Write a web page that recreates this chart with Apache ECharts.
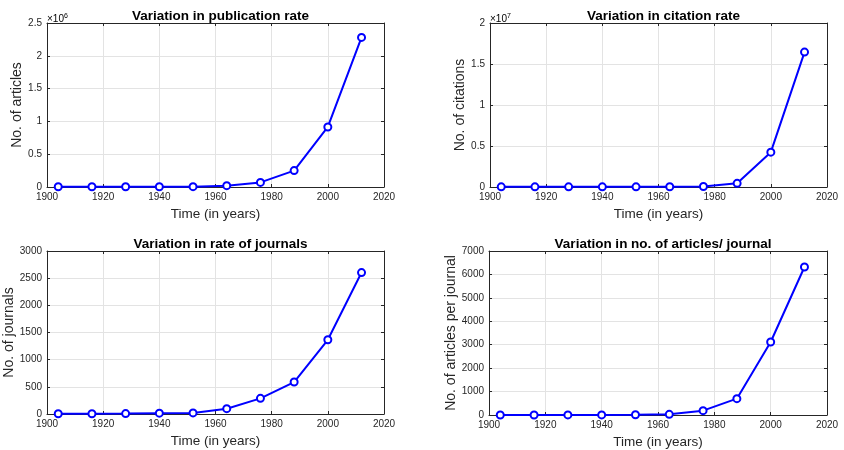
<!DOCTYPE html>
<html><head><meta charset="utf-8">
<script src="https://cdn.jsdelivr.net/npm/echarts@6/dist/echarts.min.js"></script>
<style>html,body{margin:0;padding:0;background:#fff}#c{width:844px;height:450px}</style>
</head><body><div id="c"></div>
<script>
const years = [1904, 1916, 1928, 1940, 1952, 1964, 1976, 1988, 2000, 2012];
const articles = [3000, 3000, 3500, 4000, 5000, 20000, 70000, 250000, 915000, 2280000];
const citations = [20000, 20000, 20000, 20000, 20000, 30000, 60000, 450000, 4250000, 16450000];
const journals = [5, 5, 8, 15, 20, 98, 288, 588, 1366, 2603];
const perJournal = [2, 2, 3, 4, 10, 28, 185, 697, 3115, 6316];
const titles = ['Variation in publication rate', 'Variation in citation rate', 'Variation in rate of journals', 'Variation in no. of articles/ journal'];
const yNames = ['No. of articles', 'No. of citations', 'No. of journals', 'No. of articles per journal'];
const xName = 'Time (in years)';
const yMax = [2500000, 20000000, 3000, 7000];
const yStep = [500000, 5000000, 500, 1000];
const yScale = [1e6, 1e7, 1, 1];

const FONT = '"Liberation Sans", Arial, sans-serif';
const grids = [
  {left: 47, right: 460, top: 23, bottom: 263},
  {left: 490, right: 17, top: 23, bottom: 263},
  {left: 47, right: 460, top: 251, bottom: 36},
  {left: 489, right: 17, top: 251, bottom: 35}
];
const yGaps = [22, 21, 28, 29];
const series = [articles, citations, journals, perJournal];

const xAxes = [], yAxes = [], ser = [], titleArr = [], graphics = [];
grids.forEach((g, i) => {
  const common = {gridIndex: i, type: 'value', min: 1900, max: 2020, interval: 20};
  xAxes.push(Object.assign({}, common, {
    position: 'bottom', name: xName, nameLocation: 'middle', nameGap: 20,
    nameTextStyle: {fontFamily: FONT, fontSize: 13.5, color: '#262626'},
    axisLine: {show: true, onZero: false, lineStyle: {color: '#262626', width: 1}},
    axisTick: {show: true, inside: true, length: 3, lineStyle: {color: '#262626'}},
    axisLabel: {fontFamily: FONT, fontSize: 10, color: '#262626', margin: 5,
      formatter: v => String(v)},
    splitLine: {show: true, lineStyle: {color: '#e3e3e3', width: 1}}
  }));
  xAxes.push(Object.assign({}, common, {
    position: 'top',
    axisLine: {show: true, onZero: false, lineStyle: {color: '#262626', width: 1}},
    axisTick: {show: true, inside: true, length: 3, lineStyle: {color: '#262626'}},
    axisLabel: {show: false}, splitLine: {show: false}
  }));
  const sc = yScale[i];
  const yc = {gridIndex: i, type: 'value', min: 0, max: yMax[i], interval: yStep[i]};
  yAxes.push(Object.assign({}, yc, {
    position: 'left', name: yNames[i], nameLocation: 'middle', nameGap: yGaps[i], nameRotate: 90,
    nameTextStyle: {fontFamily: FONT, fontSize: 14, color: '#262626'},
    axisLine: {show: true, onZero: false, lineStyle: {color: '#262626', width: 1}},
    axisTick: {show: true, inside: true, length: 3, lineStyle: {color: '#262626'}},
    axisLabel: {fontFamily: FONT, fontSize: 10, color: '#262626', margin: 5,
      formatter: v => String(+(v / sc).toFixed(2))},
    splitLine: {show: true, lineStyle: {color: '#e3e3e3', width: 1}}
  }));
  yAxes.push(Object.assign({}, yc, {
    position: 'right',
    axisLine: {show: true, onZero: false, lineStyle: {color: '#262626', width: 1}},
    axisTick: {show: true, inside: true, length: 3, lineStyle: {color: '#262626'}},
    axisLabel: {show: false}, splitLine: {show: false}
  }));
  ser.push({
    type: 'line', xAxisIndex: 2 * i, yAxisIndex: 2 * i,
    data: years.map((y, k) => [y, series[i][k]]),
    symbol: 'circle', symbolSize: 7, showSymbol: true,
    itemStyle: {color: '#fff', borderColor: '#0000ff', borderWidth: 2},
    lineStyle: {color: '#0000ff', width: 2},
    animation: false
  });
  const W = 844 - g.left - g.right;
  titleArr.push({
    text: titles[i], left: g.left + W / 2, top: g.top - 19, textAlign: 'center',
    textStyle: {fontFamily: FONT, fontSize: 13.5, fontWeight: 'bold', color: '#000'}
  });
  if (sc !== 1) {
    graphics.push({
      type: 'text', left: g.left, top: g.top - 10,
      style: {
        text: '{a|×10}{b|' + Math.round(Math.log10(sc)) + '}',
        rich: {
          a: {fontFamily: FONT, fontSize: 10, color: '#555'},
          b: {fontFamily: FONT, fontSize: 7, color: '#555', verticalAlign: 'top', padding: [0, 0, 6, 0]}
        }
      }
    });
  }
});

const chart = echarts.init(document.getElementById('c'), null, {renderer: 'canvas'});
chart.setOption({
  animation: false,
  backgroundColor: '#fff',
  title: titleArr,
  grid: grids,
  xAxis: xAxes,
  yAxis: yAxes,
  series: ser,
  graphic: graphics
});
</script></body></html>
